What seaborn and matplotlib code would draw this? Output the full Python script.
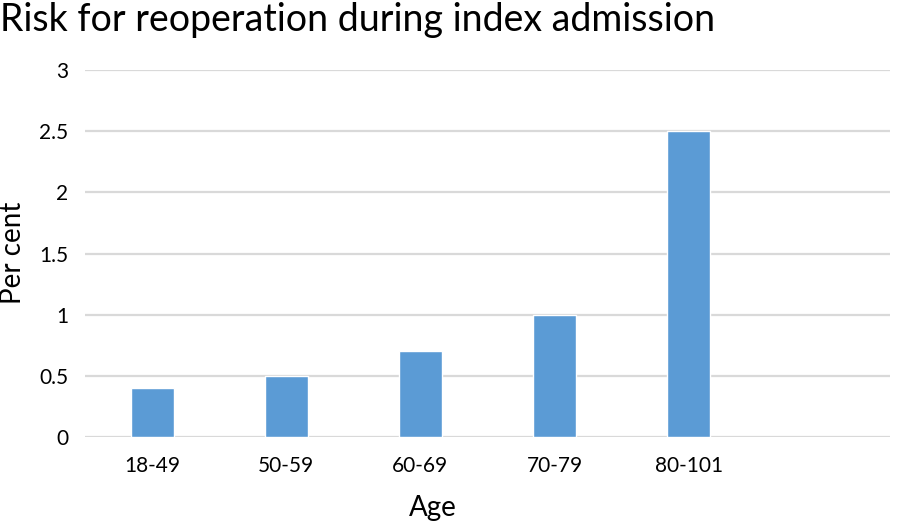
import matplotlib
matplotlib.use("Agg")
import matplotlib.pyplot as plt
import seaborn as sns
import pandas as pd

categories = ["18-49", "50-59", "60-69", "70-79", "80-101"]
values = [0.4, 0.5, 0.7, 1.0, 2.5]
yticks = [0, 0.5, 1, 1.5, 2, 2.5, 3]
ytick_labels = ["0", "0.5", "1", "1.5", "2", "2.5", "3"]

sns.set_theme(style="white")
plt.rcParams["font.family"] = ["Lato", "DejaVu Sans"]
plt.rcParams["text.color"] = "black"
plt.rcParams["axes.labelcolor"] = "black"

df = pd.DataFrame({"Age": categories, "Per cent": values})

fig = plt.figure(figsize=(8.99, 5.22), dpi=100)
ax = fig.add_axes([85 / 899, 1 - 437 / 522, 805 / 899, (437 - 70) / 522])

sns.barplot(data=df, x="Age", y="Per cent", color="#5b9bd5", width=0.32,
            saturation=1, ax=ax, zorder=3)

ax.set_xlim(-0.5, 5.5)
ax.set_ylim(0, 3)
ax.set_yticks(yticks)
ax.set_yticklabels(ytick_labels)
ax.yaxis.grid(True, color="#d9d9d9", linewidth=1.6, zorder=0)
ax.set_axisbelow(True)
for s in ax.spines.values():
    s.set_visible(False)
ax.tick_params(axis="both", length=0, labelsize=15, colors="black")
ax.tick_params(axis="y", pad=12)
ax.tick_params(axis="x", pad=14)

ax.set_xlabel("Age", fontsize=20, color="black")
ax.set_ylabel("Per cent", fontsize=20, color="black")
ax.xaxis.set_label_coords((433 - 85) / 805, -(508 - 437) / 367)
ax.yaxis.set_label_coords((13 - 85) / 805, (437 - 253) / 367)
ax.xaxis.label.set_va("center")
ax.yaxis.label.set_va("center")

fig.text(0.0, 1 - 20 / 522, "Risk for reoperation during index admission",
         fontsize=27, ha="left", va="center", color="black")

fig.savefig("out.png", dpi=100)
